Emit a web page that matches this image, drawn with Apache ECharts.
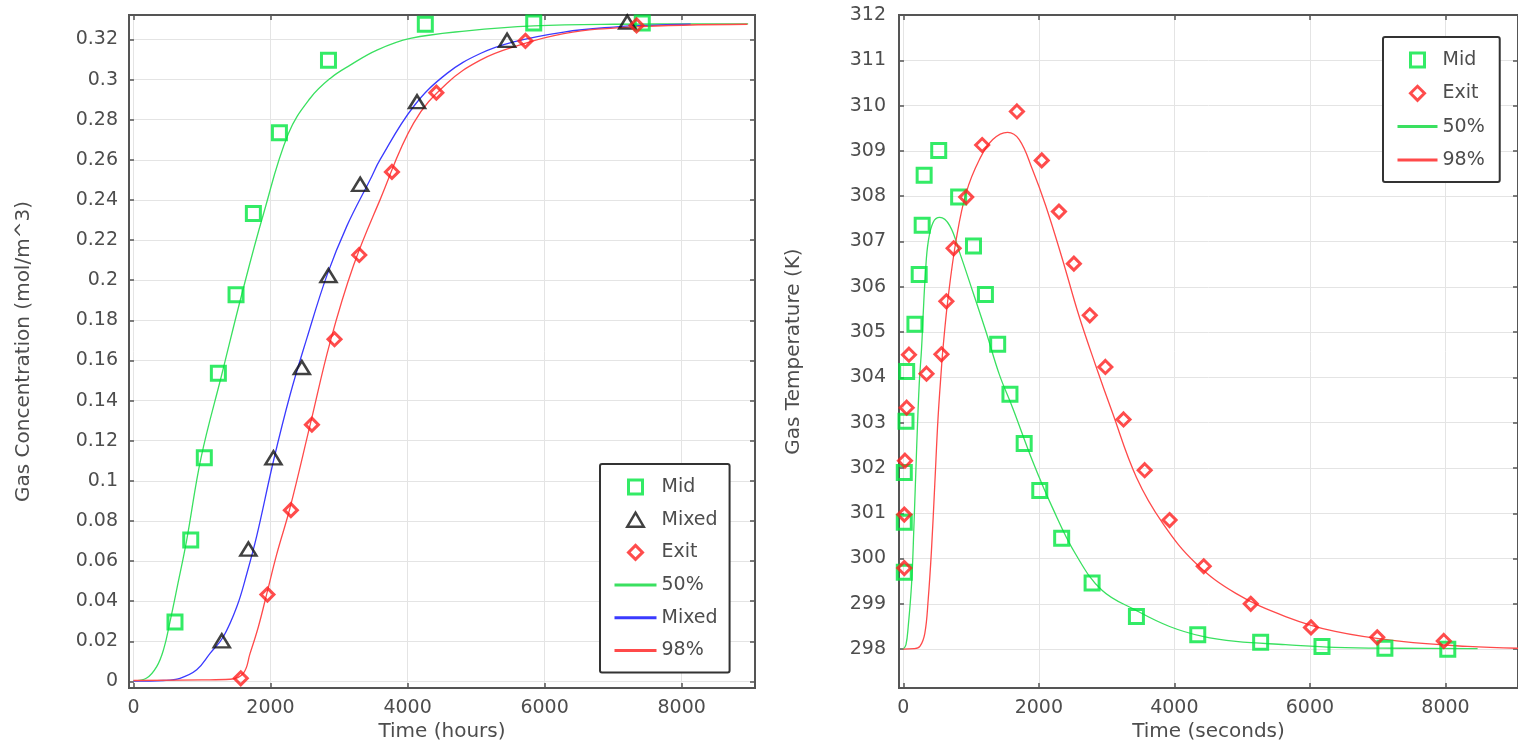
<!DOCTYPE html>
<html>
<head>
<meta charset="utf-8">
<script src="https://cdn.jsdelivr.net/npm/echarts@6/dist/echarts.min.js"></script>
<style>
html,body{margin:0;padding:0;background:#fff;}
#chart{width:1518px;height:747px;}
</style>
</head>
<body>
<div id="chart"></div>
<script>
// ---------- Left chart: gas concentration vs time (hours) ----------
const concTicksX = [0, 2000, 4000, 6000, 8000];
const concTicksY = [0, 0.02, 0.04, 0.06, 0.08, 0.1, 0.12, 0.14, 0.16, 0.18, 0.2, 0.22, 0.24, 0.26, 0.28, 0.3, 0.32];

const concMid = [[606,0.0297],[836,0.0705],[1034,0.1115],[1239,0.1536],[1497,0.1928],[1750,0.2332],[2130,0.2735],[2846,0.3097],[4259,0.3276],[5841,0.3282],[7425,0.3282]];
const concMixed = [[1289,0.0203],[1677,0.066],[2043,0.1115],[2457,0.1565],[2846,0.2023],[3309,0.2478],[4138,0.289],[5452,0.3196],[7206,0.3287]];
const concExit = [[1566,0.0016],[1955,0.0433],[2297,0.0854],[2604,0.128],[2934,0.1706],[3295,0.2126],[3772,0.254],[4420,0.2935],[5720,0.3193],[7342,0.327]];

const conc50 = [[0,0.0003],[193,0.0017],[339,0.0074],[440,0.016],[533,0.0297],[650,0.049],[777,0.0705],[986,0.1115],[1289,0.153],[1581,0.193],[1897,0.233],[2260,0.273],[2579,0.2907],[2871,0.3006],[3163,0.3072],[3553,0.3147],[4040,0.3205],[4868,0.3243],[5841,0.3268],[7000,0.3276],[8970,0.3278]];
const concMixedLine = [[0,0.0002],[435,0.0005],[679,0.0016],[923,0.0058],[1118,0.014],[1312,0.0223],[1508,0.0372],[1654,0.0537],[1800,0.0727],[2043,0.1099],[2286,0.1429],[2530,0.171],[2822,0.2023],[3115,0.2271],[3455,0.2502],[3601,0.2602],[4088,0.2866],[4576,0.3031],[5062,0.313],[5549,0.3188],[6280,0.3237],[7010,0.3262],[7498,0.327],[8130,0.3276]];
const conc98 = [[0,0.0005],[1000,0.0008],[1410,0.0011],[1604,0.0041],[1702,0.014],[1823,0.0273],[1946,0.0438],[2092,0.0636],[2286,0.0867],[2579,0.128],[2871,0.1693],[3211,0.2073],[3601,0.2403],[4088,0.2783],[4576,0.2982],[5062,0.3097],[5549,0.3163],[6280,0.3229],[7254,0.3262],[8959,0.3276]];

// ---------- Right chart: gas temperature vs time (seconds) ----------
const tempTicksX = [0, 2000, 4000, 6000, 8000];
const tempTicksY = [298, 299, 300, 301, 302, 303, 304, 305, 306, 307, 308, 309, 310, 311, 312];

const tempMid = [[15,299.7],[15,300.8],[15,301.9],[40,303.03],[50,304.13],[172,305.17],[235,306.27],[279,307.36],[308,308.46],[523,309.01],[817,307.98],[1036,306.9],[1212,305.83],[1393,304.73],[1574,303.63],[1784,302.54],[2014,301.5],[2337,300.45],[2786,299.46],[3440,298.72],[4345,298.32],[5273,298.15],[6178,298.06],[7106,298.02],[8034,298.0]];
const tempExit = [[15,299.79],[15,300.97],[25,302.16],[50,303.33],[84,304.5],[343,304.08],[563,304.51],[636,305.68],[743,306.85],[929,307.98],[1164,309.13],[1677,309.87],[2043,308.79],[2297,307.66],[2517,306.51],[2752,305.37],[2982,304.23],[3250,303.07],[3562,301.95],[3929,300.85],[4433,299.83],[5127,299.0],[6016,298.48],[6993,298.26],[7975,298.18]];

const temp50 = [[0,298.0],[40,298.1],[73,298.5],[123,299.45],[157,300.7],[196,302.38],[235,303.84],[270,304.64],[293,305.37],[328,306.33],[367,306.98],[440,307.42],[538,307.53],[685,307.35],[831,306.76],[1026,305.89],[1222,305.0],[1418,304.06],[1613,303.33],[1906,302.16],[2199,301.13],[2542,300.1],[2932,299.3],[3430,298.86],[3929,298.5],[4418,298.28],[4907,298.17],[5640,298.1],[6373,298.04],[7350,298.02],[8474,298.01]];
const temp98 = [[0,298.0],[160,298.01],[245,298.06],[318,298.35],[367,299.08],[416,300.18],[465,301.64],[513,303.1],[563,304.2],[586,304.64],[660,305.74],[783,307.06],[929,308.08],[1124,308.81],[1320,309.25],[1539,309.41],[1711,309.25],[1906,308.59],[2102,307.79],[2346,306.62],[2590,305.37],[2835,304.28],[3079,303.25],[3441,301.79],[3832,300.77],[4320,299.89],[4907,299.23],[5640,298.72],[6373,298.39],[7350,298.17],[8327,298.06],[9070,298.02]];

// ---------- styling ----------
const FONT = 'DejaVu Sans';
const TXT = '#4d4d4d';
const FRAME = '#555';
const GREEN_M = '#00e640';
const GREEN_L = '#3ae060';
const RED_M = '#ff1f1f';
const RED_L = '#ff4a4a';
const BLUE_L = '#3a3aff';
const BLACK_M = '#111';
const TICK_FS = 19;
const TITLE_FS = 20;

const ICON_SQUARE = 'path://M0,0L10,0L10,10L0,10Z';
const ICON_DIAMOND = 'path://M5,0L10,5L5,10L0,5Z';
const ICON_TRIANGLE = 'path://M5,0L10,8.5L0,8.5Z';

const legendNames = {
  'c-mid':'Mid','c-mixed':'Mixed','c-exit':'Exit','c-50':'50%','c-mixedL':'Mixed','c-98':'98%',
  't-mid':'Mid','t-exit':'Exit','t-50':'50%','t-98':'98%'
};

function mainX(gi, ticks, min, max, name) {
  return {
    gridIndex: gi, type: 'value', position: 'bottom', min: min, max: max,
    name: name, nameLocation: 'middle', nameGap: 33,
    nameTextStyle: {fontFamily: FONT, fontSize: TITLE_FS, color: TXT},
    axisLine: {show: true, onZero: false, lineStyle: {color: FRAME, width: 2}},
    axisTick: {show: true, inside: true, length: 5, customValues: ticks, lineStyle: {color: FRAME, width: 1.5}},
    axisLabel: {show: true, customValues: ticks, margin: 10, fontFamily: FONT, fontSize: TICK_FS, color: TXT, formatter: v => String(Math.round(v))},
    splitLine: {show: true, lineStyle: {color: '#e4e4e4', width: 1}}
  };
}
function mirrorX(gi, ticks, min, max) {
  return {
    gridIndex: gi, type: 'value', position: 'top', min: min, max: max,
    axisLine: {show: true, onZero: false, lineStyle: {color: FRAME, width: 2}},
    axisTick: {show: true, inside: true, length: 5, customValues: ticks, lineStyle: {color: FRAME, width: 1.5}},
    axisLabel: {show: false, customValues: ticks},
    splitLine: {show: false}
  };
}
function mainY(gi, ticks, min, max, name, fmt, gap, margin) {
  return {
    gridIndex: gi, type: 'value', position: 'left', min: min, max: max,
    name: name, nameLocation: 'middle', nameGap: gap, nameRotate: 90,
    nameTextStyle: {fontFamily: FONT, fontSize: TITLE_FS, color: TXT},
    axisLine: {show: true, onZero: false, lineStyle: {color: FRAME, width: 2}},
    axisTick: {show: true, inside: true, length: 5, customValues: ticks, lineStyle: {color: FRAME, width: 1.5}},
    axisLabel: {show: true, customValues: ticks, margin: margin, fontFamily: FONT, fontSize: TICK_FS, color: TXT, formatter: fmt},
    splitLine: {show: true, lineStyle: {color: '#e4e4e4', width: 1}}
  };
}
function mirrorY(gi, ticks, min, max) {
  return {
    gridIndex: gi, type: 'value', position: 'right', min: min, max: max,
    axisLine: {show: true, onZero: false, lineStyle: {color: FRAME, width: 2}},
    axisTick: {show: true, inside: true, length: 5, customValues: ticks, lineStyle: {color: FRAME, width: 1.5}},
    axisLabel: {show: false, customValues: ticks},
    splitLine: {show: false}
  };
}
function scatter(name, data, symbol, size, color, bw, xi, yi) {
  return {
    name: name, type: 'scatter', xAxisIndex: xi, yAxisIndex: yi, data: data,
    symbol: symbol, symbolSize: size, z: 5,
    itemStyle: {color: 'rgba(255,255,255,0)', borderColor: color, borderWidth: bw},
    emphasis: {disabled: true}
  };
}
function line(name, data, color, xi, yi) {
  return {
    name: name, type: 'line', xAxisIndex: xi, yAxisIndex: yi, data: data,
    symbol: 'circle', showSymbol: false, smooth: 0.4, z: 3,
    lineStyle: {color: color, width: 1.3}, itemStyle: {color: color},
    emphasis: {disabled: true}
  };
}
function lineLegend(name) {
  return {name: name, itemStyle: {color: 'rgba(0,0,0,0)', borderWidth: 0}, lineStyle: {width: 3}};
}
function symLegend(name, icon, color, bw) {
  return {name: name, icon: icon, itemStyle: {color: 'rgba(255,255,255,0)', borderColor: color, borderWidth: bw}};
}

const cMin = -65, cMax = 9070, cyMin = -0.0033, cyMax = 0.3322;
const tMin = -63, tMax = 9070, tyMin = 297.14, tyMax = 312;

const option = {
  animation: false,
  backgroundColor: '#fff',
  grid: [
    {left: 129, top: 15, width: 626, height: 677, show: true, borderColor: FRAME, borderWidth: 2, backgroundColor: '#fff'},
    {left: 899, top: 15, width: 621, height: 677, show: true, borderColor: FRAME, borderWidth: 2, backgroundColor: '#fff'}
  ],
  xAxis: [
    mainX(0, concTicksX, cMin, cMax, 'Time (hours)'),
    mirrorX(0, concTicksX, cMin, cMax),
    mainX(1, tempTicksX, tMin, tMax, 'Time (seconds)'),
    mirrorX(1, tempTicksX, tMin, tMax)
  ],
  yAxis: [
    mainY(0, concTicksY, cyMin, cyMax, 'Gas Concentration (mol/m^3)', v => String(parseFloat((+v).toFixed(2))), 95, 11),
    mirrorY(0, concTicksY, cyMin, cyMax),
    mainY(1, tempTicksY, tyMin, tyMax, 'Gas Temperature (K)', v => String(Math.round(v)), 95, 13),
    mirrorY(1, tempTicksY, tyMin, tyMax)
  ],
  legend: [
    {
      orient: 'vertical', left: 600, top: 464, padding: [13, 12, 12, 13],
      itemWidth: 42, itemHeight: 14, itemGap: 12.7,
      data: [
        symLegend('c-mid', ICON_SQUARE, GREEN_M, 3),
        symLegend('c-mixed', ICON_TRIANGLE, BLACK_M, 2.5),
        symLegend('c-exit', ICON_DIAMOND, RED_M, 3),
        lineLegend('c-50'), lineLegend('c-mixedL'), lineLegend('c-98')
      ],
      formatter: n => legendNames[n],
      textStyle: {fontFamily: FONT, fontSize: TICK_FS, color: TXT, lineHeight: 20},
      borderColor: '#333', borderWidth: 2, borderRadius: 2, backgroundColor: '#fff',
      selectedMode: false
    },
    {
      orient: 'vertical', left: 1383, top: 37, padding: [13, 15, 12, 13],
      itemWidth: 40, itemHeight: 14, itemGap: 13.3,
      data: [
        symLegend('t-mid', ICON_SQUARE, GREEN_M, 3),
        symLegend('t-exit', ICON_DIAMOND, RED_M, 3),
        lineLegend('t-50'), lineLegend('t-98')
      ],
      formatter: n => legendNames[n],
      textStyle: {fontFamily: FONT, fontSize: TICK_FS, color: TXT, lineHeight: 20},
      borderColor: '#333', borderWidth: 2, borderRadius: 2, backgroundColor: '#fff',
      selectedMode: false
    }
  ],
  series: [
    line('c-50', conc50, GREEN_L, 0, 0),
    line('c-mixedL', concMixedLine, BLUE_L, 0, 0),
    line('c-98', conc98, RED_L, 0, 0),
    scatter('c-mid', concMid, 'rect', 14, GREEN_M, 3, 0, 0),
    scatter('c-mixed', concMixed, 'triangle', [16, 13], BLACK_M, 2.5, 0, 0),
    scatter('c-exit', concExit, 'diamond', [13, 13], RED_M, 3, 0, 0),
    line('t-50', temp50, GREEN_L, 2, 2),
    line('t-98', temp98, RED_L, 2, 2),
    scatter('t-mid', tempMid, 'rect', 14, GREEN_M, 3, 2, 2),
    scatter('t-exit', tempExit, 'diamond', [13, 13], RED_M, 3, 2, 2)
  ]
};

const chart = echarts.init(document.getElementById('chart'), null, {renderer: 'canvas'});
chart.setOption(option);
</script>
</body>
</html>
